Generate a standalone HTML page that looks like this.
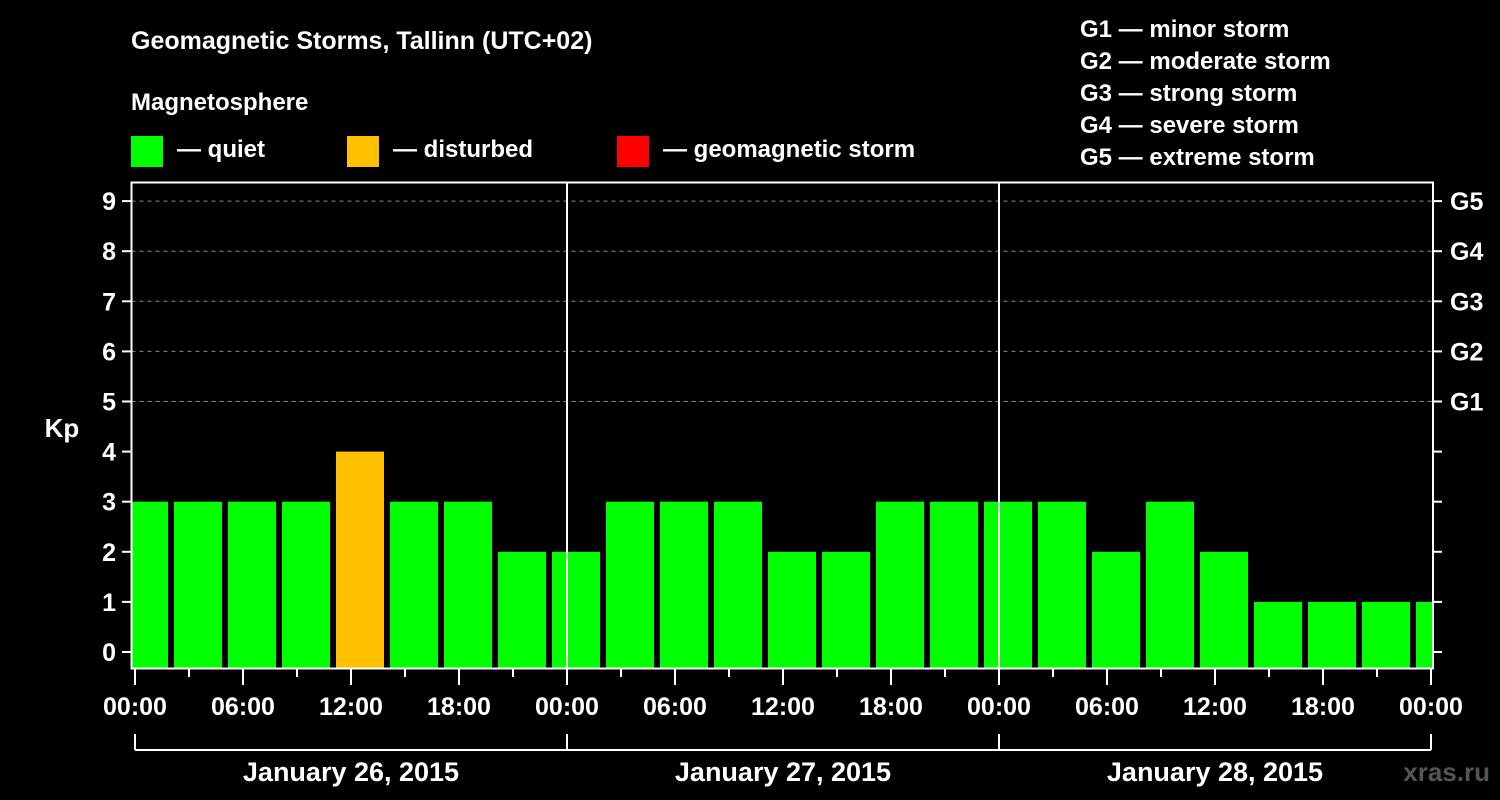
<!DOCTYPE html>
<html><head><meta charset="utf-8"><style>
body{margin:0;background:#000;}
svg{display:block;font-family:"Liberation Sans",Arial,sans-serif;font-weight:bold;}
</style></head><body>
<svg id="chart" width="1500" height="800" viewBox="0 0 1500 800">
<rect width="1500" height="800" fill="#000"/>
<text x="131" y="49" fill="#fff" font-size="25">Geomagnetic Storms, Tallinn (UTC+02)</text>
<text x="131" y="110" fill="#fff" font-size="24">Magnetosphere</text>
<g><rect x="131" y="136" width="32" height="31" fill="#00ff00"/><text x="177" y="157" fill="#fff" font-size="24">— quiet</text></g>
<g><rect x="347" y="136" width="32" height="31" fill="#ffc000"/><text x="393" y="157" fill="#fff" font-size="24">— disturbed</text></g>
<g><rect x="617" y="136" width="32" height="31" fill="#ff0000"/><text x="663" y="157" fill="#fff" font-size="24">— geomagnetic storm</text></g>
<g fill="#fff" font-size="24">
<text x="1080" y="37">G1 — minor storm</text>
<text x="1080" y="69">G2 — moderate storm</text>
<text x="1080" y="101">G3 — strong storm</text>
<text x="1080" y="133">G4 — severe storm</text>
<text x="1080" y="165">G5 — extreme storm</text>
</g>
<g id="plot"></g>
<text x="62" y="437" fill="#fff" font-size="26" text-anchor="middle">Kp</text>
<text x="1490" y="781" fill="#555" font-size="26" text-anchor="end">xras.ru</text>
</svg>
<script>
const kpValues=[3,3,3,3,4,3,3,2,2,3,3,3,2,2,3,3,3,3,2,3,2,1,1,1,1];
const yTicks=[0,1,2,3,4,5,6,7,8,9];
const gLabels=["G1","G2","G3","G4","G5"];
const gLevels=[5,6,7,8,9];
const timeLabels=["00:00","06:00","12:00","18:00","00:00","06:00","12:00","18:00","00:00","06:00","12:00","18:00","00:00"];
const dayLabels=["January 26, 2015","January 27, 2015","January 28, 2015"];
const NS="http://www.w3.org/2000/svg";
const L=131.5,R=1433,T=182.5,B=668.5,X0=135,HOUR=18;
const y=v=>652-v*50.1;
const xh=h=>X0+h*HOUR;
const g=document.getElementById('plot');
function el(t,a,p){const e=document.createElementNS(NS,t);for(const k in a)e.setAttribute(k,a[k]);(p||g).appendChild(e);return e;}
const clip=el('clipPath',{id:'pc'});el('rect',{x:L,y:T,width:R-L,height:B-T},clip);
// grid
gLevels.forEach(v=>{const ln=el('line',{x1:L,x2:R,y1:y(v),y2:y(v),stroke:'#888','stroke-dasharray':'4,4','stroke-width':1});

});
// bars
const bg=el('g',{'clip-path':'url(#pc)'});
kpValues.forEach((v,i)=>{const c=xh(3*(i-1)+3.5);
const col=v>=5?'#ff0000':(v>=4?'#ffc000':'#00ff00');
const r=el('rect',{x:c-24,width:48,y:y(v),height:B-y(v),fill:col},bg);

});
// day separators
[1,2].forEach(d=>{el('line',{x1:xh(24*d),x2:xh(24*d),y1:T,y2:B,stroke:'#fff','stroke-width':2});});
// frame
const fr=el('rect',{x:L,y:T,width:R-L,height:B-T,fill:'none',stroke:'#fff','stroke-width':2});


// y ticks
yTicks.forEach(v=>{el('line',{x1:122,x2:L,y1:y(v),y2:y(v),stroke:'#fff','stroke-width':2});
el('line',{x1:R,x2:1442,y1:y(v),y2:y(v),stroke:'#fff','stroke-width':2});
const t=el('text',{x:116,y:y(v)+9,fill:'#fff','font-size':25,'text-anchor':'end'});t.textContent=v;

});
gLabels.forEach((s,i)=>{const t=el('text',{x:1450,y:y(gLevels[i])+9,fill:'#fff','font-size':25});t.textContent=s;

});
// x ticks
for(let h=0;h<=72;h+=3){const major=h%6===0;el('line',{x1:xh(h),x2:xh(h),y1:B,y2:major?685:677,stroke:'#fff','stroke-width':2});}
timeLabels.forEach((s,i)=>{const t=el('text',{x:xh(i*6),y:715,fill:'#fff','font-size':25,'text-anchor':'middle'});t.textContent=s;

});
// day brackets
el('line',{x1:xh(0),x2:xh(72),y1:750,y2:750,stroke:'#fff','stroke-width':2});
for(let d=0;d<=3;d++)el('line',{x1:xh(24*d),x2:xh(24*d),y1:734,y2:750,stroke:'#fff','stroke-width':2});
dayLabels.forEach((s,i)=>{const t=el('text',{x:xh(24*i+12),y:781,fill:'#fff','font-size':27,'text-anchor':'middle'});t.textContent=s;

});
</script>
</body></html>
